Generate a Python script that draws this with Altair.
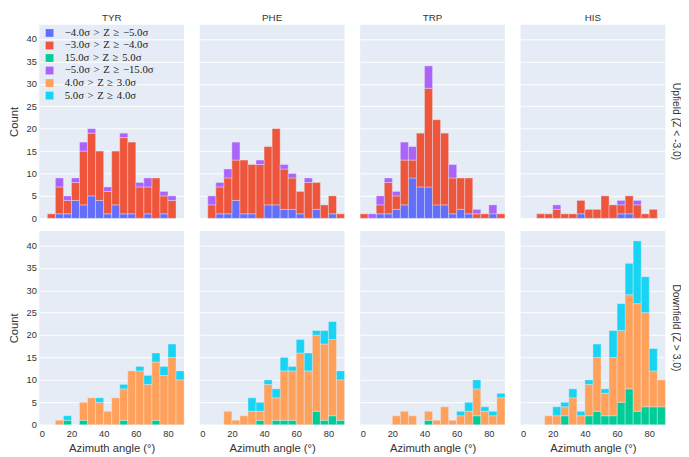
import altair as alt
import pandas as pd

residues = ["TYR", "PHE", "TRP", "HIS"]
fields = ["Upfield (Z < -3.0)", "Downfield (Z > 3.0)"]
bin_starts = [0, 5, 10, 15, 20, 25, 30, 35, 40, 45, 50, 55, 60, 65, 70, 75, 80, 85]
bin_width = 5

sp = "\u2004"
series_labels = [
    f"−4.0σ{sp}>{sp}Z{sp}≥{sp}−5.0σ",
    f"−3.0σ{sp}>{sp}Z{sp}≥{sp}−4.0σ",
    f"15.0σ{sp}>{sp}Z{sp}≥{sp}5.0σ",
    f"−5.0σ{sp}>{sp}Z{sp}≥{sp}−15.0σ",
    f"4.0σ{sp}>{sp}Z{sp}≥{sp}3.0σ",
    f"5.0σ{sp}>{sp}Z{sp}≥{sp}4.0σ",
]
series_colors = ["#636EFA", "#EF553B", "#00CC96", "#AB63FA", "#FFA15A", "#19D3F3"]

# Upfield counts (series: blue, red, purple)
tyr_up_blue = [0, 0, 1, 1, 4, 3, 5, 4, 1, 3, 1, 1, 0, 1, 0, 1, 0, 0]
tyr_up_red = [0, 1, 6, 3, 4, 12, 14, 11, 5, 12, 17, 16, 7, 6, 9, 4, 4, 0]
tyr_up_purple = [0, 0, 2, 1, 1, 2, 1, 0, 1, 0, 1, 0, 1, 2, 0, 1, 1, 0]

phe_up_blue = [0, 0, 1, 1, 4, 1, 1, 0, 3, 3, 2, 2, 1, 0, 2, 0, 1, 0]
phe_up_red = [0, 3, 6, 8, 9, 12, 11, 12, 13, 17, 9, 7, 5, 8, 6, 3, 4, 1]
phe_up_purple = [0, 2, 1, 2, 4, 0, 0, 1, 0, 0, 1, 1, 0, 1, 0, 0, 0, 0]

trp_up_blue = [0, 0, 1, 1, 2, 3, 9, 7, 7, 3, 3, 1, 2, 1, 0, 0, 1, 0]
trp_up_red = [1, 0, 2, 7, 3, 10, 4, 12, 22, 19, 16, 8, 7, 8, 1, 1, 0, 1]
trp_up_purple = [0, 1, 2, 1, 1, 4, 3, 0, 5, 0, 0, 3, 0, 0, 1, 0, 2, 0]

his_up_blue = [0, 0, 0, 0, 0, 0, 0, 1, 0, 0, 0, 0, 1, 1, 0, 0, 0, 0]
his_up_red = [0, 0, 1, 1, 2, 1, 1, 3, 2, 2, 5, 3, 2, 4, 3, 1, 2, 0]
his_up_purple = [0, 0, 0, 0, 1, 0, 0, 0, 0, 0, 0, 0, 1, 0, 1, 0, 0, 0]

# Downfield counts (series: green, orange, cyan)
tyr_down_green = [0, 0, 0, 1, 0, 1, 0, 0, 0, 0, 1, 0, 0, 0, 1, 0, 0, 0]
tyr_down_orange = [0, 0, 1, 0, 0, 4, 6, 5, 3, 6, 7, 12, 12, 9, 13, 11, 15, 10]
tyr_down_cyan = [0, 0, 0, 1, 0, 0, 0, 1, 0, 0, 1, 0, 1, 2, 2, 2, 3, 2]

phe_down_green = [0, 0, 0, 0, 0, 0, 0, 1, 0, 1, 1, 1, 0, 0, 3, 1, 2, 1]
phe_down_orange = [0, 0, 0, 3, 1, 2, 3, 2, 9, 5, 11, 11, 16, 12, 17, 17, 17, 9]
phe_down_cyan = [0, 0, 0, 0, 0, 0, 3, 2, 1, 2, 3, 1, 3, 4, 1, 3, 4, 2]

trp_down_green = [0, 0, 0, 0, 0, 0, 0, 0, 1, 0, 0, 0, 0, 0, 2, 0, 0, 0]
trp_down_orange = [0, 0, 0, 0, 2, 3, 2, 0, 2, 1, 4, 1, 2, 3, 6, 3, 2, 6]
trp_down_cyan = [0, 0, 0, 0, 0, 0, 0, 0, 0, 0, 0, 0, 1, 2, 2, 1, 1, 1]

his_down_green = [0, 0, 0, 0, 0, 2, 0, 0, 2, 3, 2, 2, 5, 8, 3, 4, 4, 4]
his_down_orange = [0, 0, 0, 2, 2, 2, 6, 2, 7, 12, 5, 13, 16, 21, 24, 21, 8, 6]
his_down_cyan = [0, 0, 0, 0, 2, 1, 2, 1, 1, 3, 1, 6, 6, 7, 14, 8, 5, 0]

panels = [
    ("TYR", fields[0], [(0, tyr_up_blue), (1, tyr_up_red), (3, tyr_up_purple)]),
    ("PHE", fields[0], [(0, phe_up_blue), (1, phe_up_red), (3, phe_up_purple)]),
    ("TRP", fields[0], [(0, trp_up_blue), (1, trp_up_red), (3, trp_up_purple)]),
    ("HIS", fields[0], [(0, his_up_blue), (1, his_up_red), (3, his_up_purple)]),
    ("TYR", fields[1], [(2, tyr_down_green), (4, tyr_down_orange), (5, tyr_down_cyan)]),
    ("PHE", fields[1], [(2, phe_down_green), (4, phe_down_orange), (5, phe_down_cyan)]),
    ("TRP", fields[1], [(2, trp_down_green), (4, trp_down_orange), (5, trp_down_cyan)]),
    ("HIS", fields[1], [(2, his_down_green), (4, his_down_orange), (5, his_down_cyan)]),
]

rows = []
for res, fld, series in panels:
    for idx, counts in series:
        for b, c in zip(bin_starts, counts):
            if c > 0:
                rows.append({
                    "residue": res, "field": fld, "series": series_labels[idx],
                    "order": idx, "bin": b, "bin_end": b + bin_width, "count": c,
                })
df = pd.DataFrame(rows)

text_color = "#333333"
sans = "Liberation Sans"

base = alt.Chart(df).transform_stack(
    stack="count",
    groupby=["residue", "field", "bin"],
    as_=["y0", "y1"],
    sort=[alt.SortField("order", order="ascending")],
).mark_bar(stroke="#E5ECF6", strokeWidth=0.4).encode(
    x=alt.X("bin:Q", scale=alt.Scale(domain=[0, 90], nice=False, zero=False),
            axis=alt.Axis(values=[0, 20, 40, 60, 80], title="Azimuth angle (°)")),
    x2="bin_end:Q",
    y=alt.Y("y0:Q", scale=alt.Scale(domain=[0, 43.2], nice=False),
            axis=alt.Axis(values=[0, 5, 10, 15, 20, 25, 30, 35, 40], title="Count")),
    y2="y1:Q",
    color=alt.Color("series:N",
                    scale=alt.Scale(domain=series_labels, range=series_colors),
                    legend=alt.Legend(orient="none", legendX=5, legendY=3, title=None,
                                      symbolType="square", symbolSize=64, symbolStrokeWidth=0,
                                      labelFont="Liberation Serif", labelFontSize=11,
                                      labelColor="#222", labelOffset=10, rowPadding=0.8)),
).properties(width=148, height=198)

chart = base.facet(
    row=alt.Row("field:N", sort=fields,
                header=alt.Header(title=None, labelOrient="right", labelAngle=90,
                                  labelFontSize=10.5, labelFont=sans, labelColor=text_color,
                                  labelPadding=4)),
    column=alt.Column("residue:N", sort=residues,
                      header=alt.Header(title=None, labelFontSize=10, labelFont=sans,
                                        labelColor=text_color, labelPadding=2)),
    spacing={"row": 12, "column": 14},
).properties(padding=0).configure_view(
    fill="#E5ECF6", strokeWidth=0
).configure_axis(
    grid=True, gridColor="white", gridWidth=1, domain=False, ticks=False,
    labelFont=sans, labelFontSize=9.5, labelColor=text_color, labelPadding=3,
    titleFont=sans, titleFontSize=11.5, titleFontWeight="normal", titleColor=text_color,
).configure_axisX(grid=False, titlePadding=5).configure_axisY(titlePadding=7)

chart.save("out.html", embed_options={"renderer": "svg", "actions": False})
